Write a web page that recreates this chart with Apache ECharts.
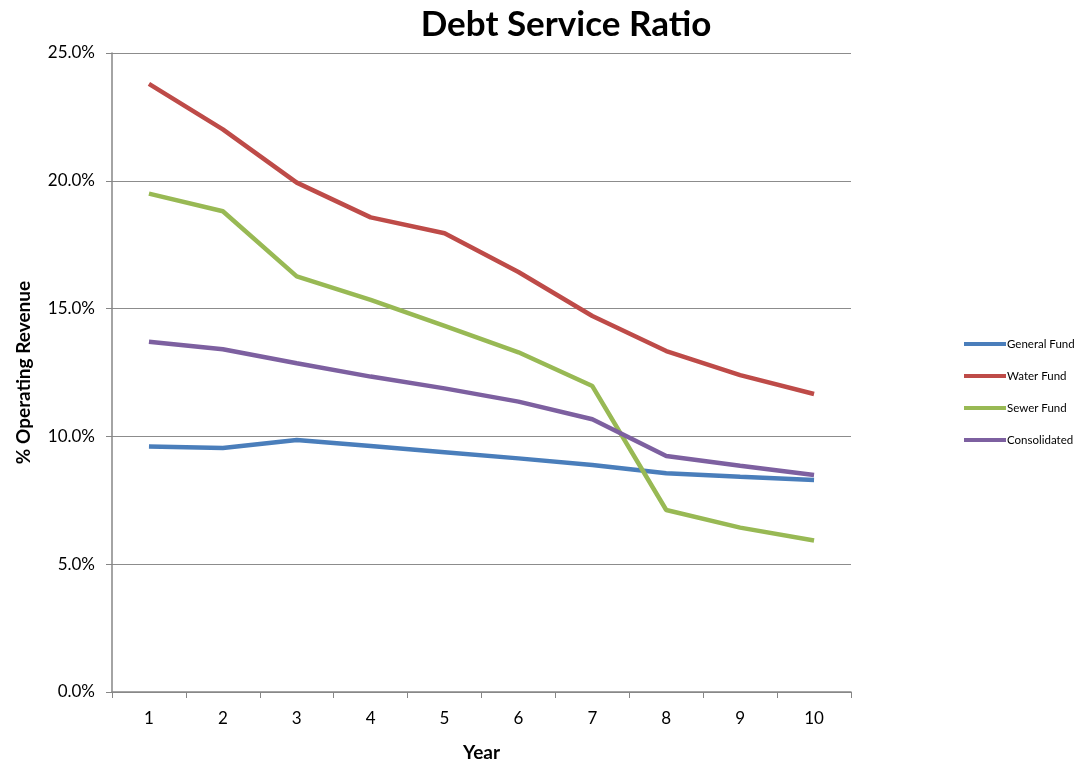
<!DOCTYPE html>
<html><head><meta charset="utf-8">
<script src="https://cdn.jsdelivr.net/npm/echarts@6/dist/echarts.min.js"></script>
<style>html,body{margin:0;padding:0;background:#fff}#c{width:1079px;height:763px}</style>
</head><body><div id="c"></div>
<script>
const years = ['1','2','3','4','5','6','7','8','9','10'];
const generalFund = [9.60, 9.55, 9.86, 9.62, 9.38, 9.14, 8.88, 8.56, 8.42, 8.29];
const waterFund = [23.79, 22.01, 19.93, 18.57, 17.95, 16.43, 14.71, 13.34, 12.40, 11.66];
const sewerFund = [19.50, 18.81, 16.26, 15.34, 14.32, 13.29, 11.97, 7.12, 6.43, 5.93];
const consolidated = [13.70, 13.41, 12.86, 12.34, 11.88, 11.36, 10.67, 9.23, 8.85, 8.49];
const seriesNames = ['General Fund','Water Fund','Sewer Fund','Consolidated'];
const seriesData = [generalFund, waterFund, sewerFund, consolidated];
const colors = ['#4A7EBB','#BE4B48','#98B954','#7D60A0'];
const font = 'Lato, "Open Sans", sans-serif';
const chart = echarts.init(document.getElementById('c'), null, {renderer:'canvas'});
chart.setOption({
  animation:false,
  color: colors,
  title:{text:'Debt Service Ratio', left:561, top:2, textAlign:'center',
    textStyle:{fontFamily:font, fontWeight:'bold', fontSize:35, color:'#000'}},
  legend:{orient:'vertical', left:964, top:338, padding:0, itemGap:20, itemWidth:42, itemHeight:4,
    icon:'rect', data:seriesNames,
    textStyle:{fontFamily:font, fontSize:11.5, color:'#000', padding:[0,0,0,-4]}},
  grid:{left:112, right:228, top:53, bottom:71, containLabel:false, outerBoundsMode:'none'},
  xAxis:{type:'category', data:years, boundaryGap:true,
    name:'Year', nameLocation:'middle', nameGap:51,
    nameTextStyle:{fontFamily:font, fontWeight:'bold', fontSize:19, color:'#000'},
    axisLine:{lineStyle:{color:'#868686', width:1.5}},
    axisTick:{show:true, length:6, lineStyle:{color:'#868686'}},
    axisLabel:{fontFamily:font, fontSize:17, color:'#000', margin:18}},
  yAxis:{type:'value', min:0, max:25, interval:5,
    name:'% Operating Revenue', nameLocation:'middle', nameGap:79,
    nameTextStyle:{fontFamily:font, fontWeight:'bold', fontSize:19, color:'#000'},
    axisLine:{show:true, lineStyle:{color:'#868686', width:1.5}},
    axisTick:{show:true, length:6, lineStyle:{color:'#868686'}},
    axisLabel:{fontFamily:font, fontSize:17, color:'#000', margin:17,
      formatter:v=>v.toFixed(1)+'%'},
    splitLine:{lineStyle:{color:'#8c8c8c', width:1.2}}},
  series: seriesNames.map((n,i)=>({name:n, type:'line', data:seriesData[i],
    symbol:'none', lineStyle:{width:4.5, color:colors[i]}}))
});
</script></body></html>
